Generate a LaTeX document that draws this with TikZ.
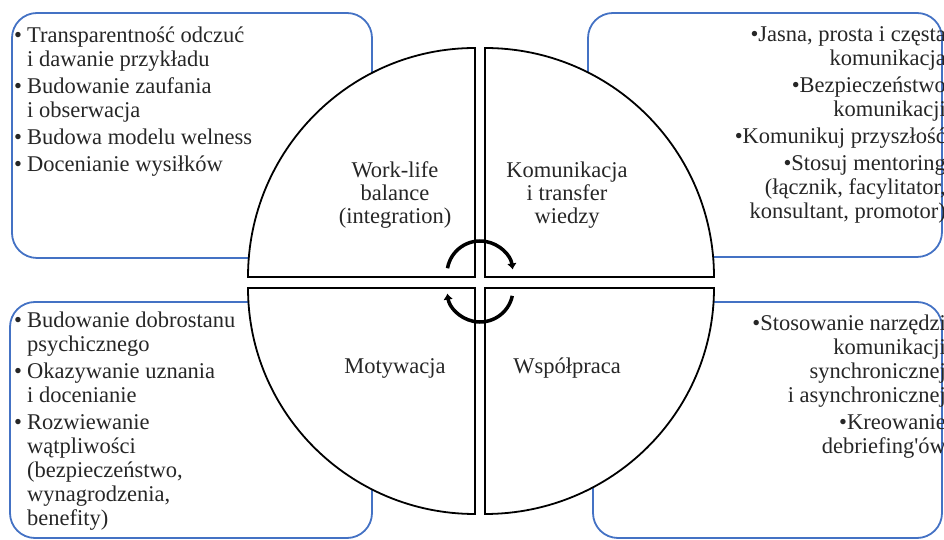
\documentclass[tikz,border=0pt]{standalone}
\usepackage{fontspec}
\setmainfont{Liberation Serif}
\usepackage{tikz}
\usetikzlibrary{arrows.meta, positioning, calc}
\definecolor{boxblue}{RGB}{68,114,196}
\tikzset{
  sidebox/.style={draw=boxblue, line width=1.8pt, rounded corners=25pt},
  quarter/.style={draw=black, line width=1.8pt, fill=white},
  listtext/.style={inner sep=0pt, text=black!85, font=\fontsize{22.5}{24}\selectfont},
  areatext/.style={inner sep=0pt, text=black!85, align=center, font=\fontsize{22.5}{23}\selectfont},
  cyclearrow/.style={line width=3.5pt, -{Latex[length=6pt,width=10pt]}}
}
\newcommand{\bul}{\makebox[13pt][l]{•}}
\newcommand{\ind}{\hspace*{13pt}}

\begin{document}
\begin{tikzpicture}[x=1pt,y=1pt]
\useasboundingbox (0,0) rectangle (944,540);

\draw[sidebox] (12,527) rectangle (372,282);
\draw[sidebox] (588,527) rectangle (942,283);
\draw[sidebox] (10,238) rectangle (372,2);
\draw[sidebox] (593,238) rectangle (942,2);

\draw[quarter] (475,263) -- (248,263) arc[start angle=180, end angle=90, x radius=227, y radius=229] -- cycle;
\draw[quarter] (485,263) -- (485,492) arc[start angle=90, end angle=0, x radius=229, y radius=229] -- cycle;
\draw[quarter] (475,252) -- (248,252) arc[start angle=180, end angle=270, x radius=227, y radius=226] -- cycle;
\draw[quarter] (485,252) -- (485,26) arc[start angle=270, end angle=360, x radius=229, y radius=226] -- cycle;

\coordinate (tophub) at (480,266);
\coordinate (bothub) at (480,251);
\draw[cyclearrow] ($(tophub)+(170:33)$) arc[start angle=170, end angle=8, radius=33];
\draw[cyclearrow] ($(bothub)+(-12:33)$) arc[start angle=-12, end angle=-172, radius=33];

\node[areatext] (worklife) at (395,345) {Work-life\\balance\\(integration)};
\node[areatext] (transfer) at (567,345) {Komunikacja\\i transfer\\wiedzy};
\node[areatext] (motywacja) at (395,172) {Motywacja};
\node[areatext] (wspolpraca) at (567,172) {Współpraca};

\node[listtext, anchor=north west, align=left] (worklifelist) at (14,513.5)
  {\bul Transparentność odczuć\\ \ind i dawanie przykładu\\[3pt]
   \bul Budowanie zaufania\\ \ind i obserwacja\\[3pt]
   \bul Budowa modelu welness\\[3pt]
   \bul Docenianie wysiłków};
\node[listtext, anchor=north east, align=right] (transferlist) at (946,513.5)
  {•Jasna, prosta i częsta\\ komunikacja\\[3pt]
   •Bezpieczeństwo\\ komunikacji\\[3pt]
   •Komunikuj przyszłość\\[3pt]
   •Stosuj mentoring\\ (łącznik, facylitator,\\ konsultant, promotor)};
\node[listtext, anchor=north west, align=left] (motywacjalist) at (14,228.5)
  {\bul Budowanie dobrostanu\\ \ind psychicznego\\[3pt]
   \bul Okazywanie uznania\\ \ind i docenianie\\[3pt]
   \bul Rozwiewanie\\ \ind wątpliwości\\ \ind (bezpieczeństwo,\\ \ind wynagrodzenia,\\ \ind benefity)};
\node[listtext, anchor=north east, align=right] (wspolpracalist) at (946,225.5)
  {•Stosowanie narzędzi\\ komunikacji\\ synchronicznej\\ i asynchronicznej\\[3pt]
   •Kreowanie\\ debriefing\textquotesingle ów};
\end{tikzpicture}
\end{document}
